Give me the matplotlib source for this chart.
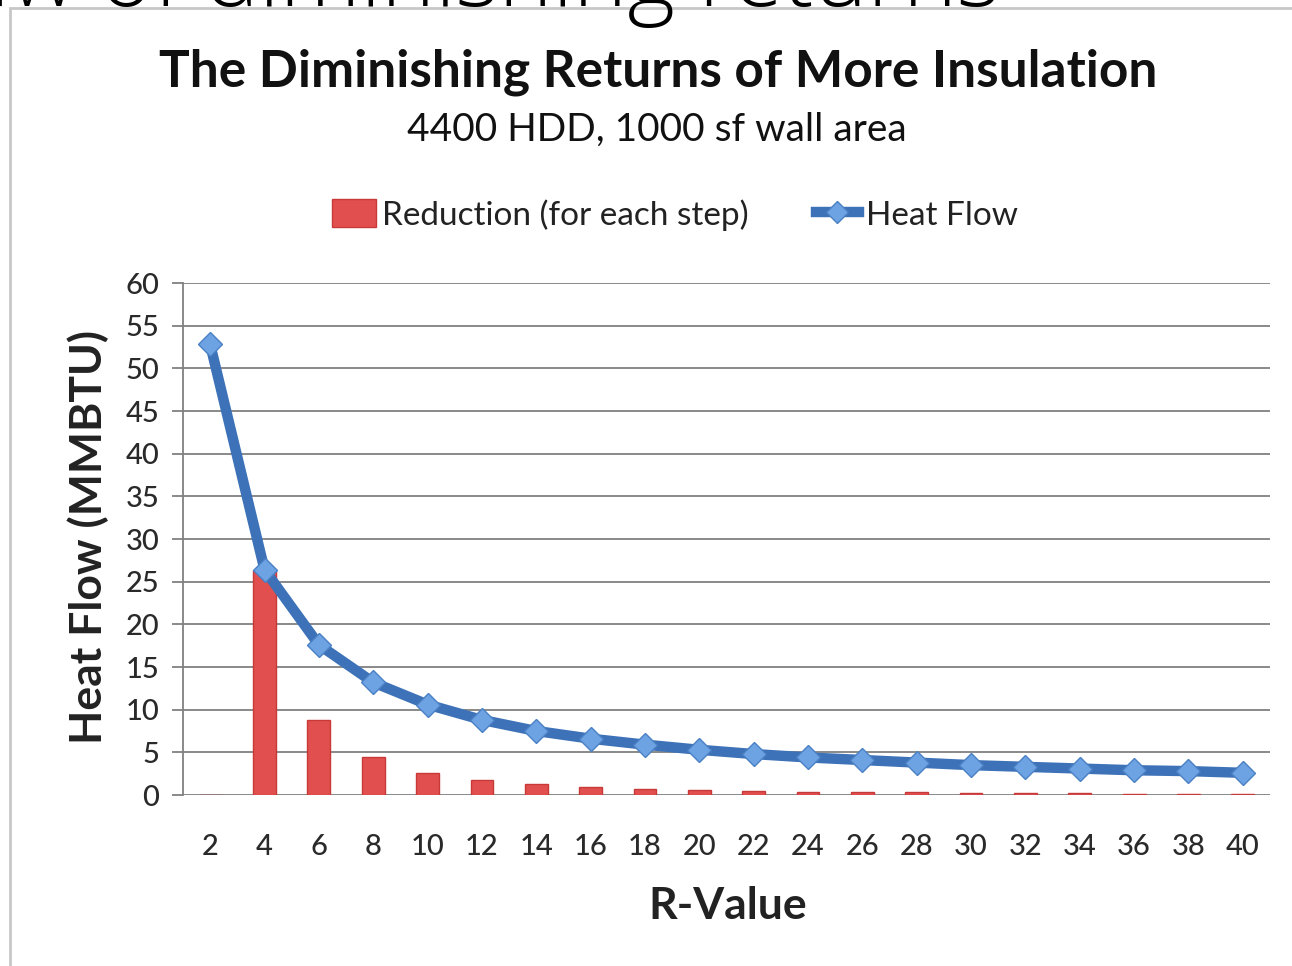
import matplotlib.pyplot as plt
from matplotlib.lines import Line2D
from matplotlib.patches import Patch, Rectangle

# values
r_values = ['2', '4', '6', '8', '10', '12', '14', '16', '18', '20',
            '22', '24', '26', '28', '30', '32', '34', '36', '38', '40']
heat_flow = [52.8, 26.4, 17.6, 13.2, 10.6, 8.8, 7.5, 6.6, 5.9, 5.3,
             4.8, 4.4, 4.1, 3.8, 3.5, 3.3, 3.1, 2.9, 2.8, 2.6]
reduction = [0, 26.4, 8.8, 4.4, 2.6, 1.8, 1.3, 0.9, 0.7, 0.6,
             0.5, 0.4, 0.3, 0.3, 0.25, 0.2, 0.2, 0.17, 0.15, 0.14]

plt.rcParams['font.family'] = ['Lato', 'DejaVu Sans']

W, H = 1292, 966
fig = plt.figure(figsize=(W / 100, H / 100), dpi=100)

# chart frame (behind everything)
fig.patches.append(Rectangle((10 / W, -0.05), 1.1, 1 - 8 / H + 0.05, transform=fig.transFigure,
                             facecolor='white', edgecolor='#c8c8c8', linewidth=2, zorder=-10))

# slide title, cut off at the top of the picture as in the source
fig.text(1000 / W, 1 - 6 / H, 'Law of diminishing returns', ha='right', va='baseline',
         fontsize=66, family=['Open Sans', 'DejaVu Sans'], fontweight='light', color='black', zorder=5)

fig.text(658 / W, 1 - 72 / H, 'The Diminishing Returns of More Insulation', ha='center', va='center',
         fontsize=37, fontweight='bold', color='#111111')
fig.text(657 / W, 1 - 130 / H, '4400 HDD, 1000 sf wall area', ha='center', va='center',
         fontsize=28, color='#111111')

ax = fig.add_axes([183 / W, 1 - 795 / H, (1270 - 183) / W, (795 - 283) / H])
ax.patch.set_alpha(0)
x = list(range(len(r_values)))

ax.bar(x, reduction, width=0.42, color='#e14f4f', edgecolor='#c83a3a', linewidth=1, zorder=2)
ax.plot(x, heat_flow, color='#3d72b8', linewidth=7.5, marker='D', markersize=12,
        markerfacecolor='#6da3e2', markeredgecolor='#4a80c4', markeredgewidth=1, zorder=3)

ax.set_xlim(-0.5, len(r_values) - 0.5)
ax.set_ylim(0, 60)
ax.set_yticks(range(0, 61, 5))
ax.set_xticks(x)
ax.set_xticklabels(r_values)
ax.yaxis.grid(True, color='#808080', linewidth=1.3, zorder=0)
ax.set_axisbelow(True)
for s in ['top', 'right', 'bottom']:
    ax.spines[s].set_visible(False)
ax.spines['left'].set_color('#808080')
ax.spines['left'].set_linewidth(1.3)
ax.tick_params(axis='y', length=8, width=1.3, color='#808080', labelsize=21, labelcolor='#2a2a2a', pad=9)
ax.tick_params(axis='x', length=0, labelsize=21, labelcolor='#2a2a2a', pad=28)
for lab in ax.get_xticklabels() + ax.get_yticklabels():
    lab.set_fontweight('medium')

ax.set_xlabel('R-Value', fontsize=32, fontweight='bold', color='#222222')
ax.xaxis.set_label_coords((728 - 183) / (1270 - 183), -(906 - 795) / (795 - 283))
ax.xaxis.label.set_va('center')
ax.set_ylabel('Heat Flow (MMBTU)', fontsize=32, fontweight='bold', color='#222222')
ax.yaxis.set_label_coords(-(183 - 88) / (1270 - 183), (795 - 537) / (795 - 283))
ax.yaxis.label.set_va('center')

handles = [Patch(facecolor='#e14f4f', edgecolor='#c83a3a'),
           Line2D([], [], color='#3d72b8', linewidth=7.5, marker='D', markersize=11,
                  markerfacecolor='#6da3e2', markeredgecolor='#4a80c4')]
fig.legend(handles, ['Reduction (for each step)', 'Heat Flow'], loc='center',
           bbox_to_anchor=(675 / W, 1 - 215 / H), ncol=2, frameon=False, fontsize=24,
           handlelength=1.3, handleheight=0.9, handletextpad=0.2, columnspacing=2.0,
           labelcolor='#222222')

fig.savefig('out.png', dpi=100)
